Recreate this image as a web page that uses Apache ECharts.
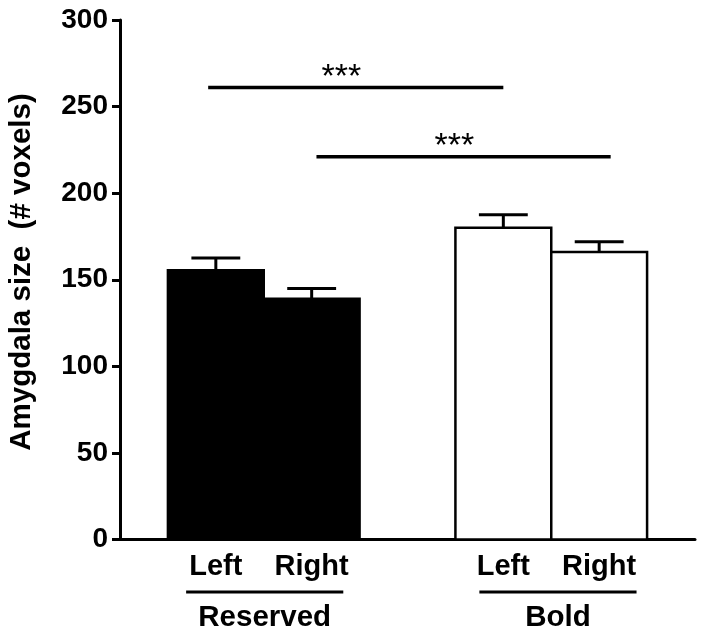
<!DOCTYPE html>
<html>
<head>
<meta charset="utf-8">
<script src="https://cdn.jsdelivr.net/npm/echarts@6/dist/echarts.min.js"></script>
<style>html,body{margin:0;padding:0;background:#fff}#c{width:705px;height:638px}</style>
</head>
<body>
<div id="c"></div>
<script>
// ---- data ----
const categories = ['Left', 'Right', 'Left', 'Right'];
const groups = ['Reserved', 'Bold'];
const groupOf = [0, 0, 1, 1];
const xPos = [1, 2, 4, 5];
const means = [155.5, 139, 180, 166];
const sems = [7, 6, 7.5, 6];
const groupCenters = [1.51, 4.57];
const sigLines = [[0.92, 4.0, 261], [2.05, 5.12, 221]];
const sigStarsX = [2.31, 3.49];
const sigLabel = '***';
const yTicks = [0, 50, 100, 150, 200, 250, 300];
const yTitle = 'Amygdala size  (# voxels)';

const FONT = '"Liberation Sans", Arial, sans-serif';
const chart = echarts.init(document.getElementById('c'));

const barData = xPos.map((x, i) => [x, means[i], sems[i], groupOf[i]]);

chart.setOption({
  animation: false,
  backgroundColor: '#fff',
  grid: { left: 120, top: 20, right: 10, bottom: 98.5, containLabel: false },
  xAxis: {
    type: 'value', min: 0, max: 6, interval: 1,
    axisLine: { show: true, onZero: false, lineStyle: { color: '#000', width: 3 } },
    axisTick: { show: false },
    splitLine: { show: false },
    axisLabel: {
      margin: 13, fontFamily: FONT, fontWeight: 'bold', fontSize: 29, color: '#000',
      formatter: v => { const i = xPos.indexOf(v); return i >= 0 ? categories[i] : ''; }
    }
  },
  yAxis: {
    type: 'value', min: yTicks[0], max: yTicks[yTicks.length - 1], interval: 50,
    axisLine: { show: true, lineStyle: { color: '#000', width: 3 } },
    axisTick: { show: true, length: 8, inside: false, lineStyle: { color: '#000', width: 3 } },
    splitLine: { show: false },
    axisLabel: { margin: 12, fontFamily: FONT, fontWeight: 'bold', fontSize: 28, color: '#000' }
  },
  graphic: [{
    type: 'text', x: 22, y: 272, rotation: Math.PI / 2,
    style: { text: yTitle, fontFamily: FONT, fontWeight: 'bold', fontSize: 29.5, fill: '#000',
      textAlign: 'center', textVerticalAlign: 'middle' }
  }],
  series: [
    {
      type: 'custom', name: 'bars', clip: false, data: barData,
      renderItem: (params, api) => {
        const x = api.value(0), m = api.value(1), s = api.value(2), g = api.value(3);
        const tl = api.coord([x - 0.5, m]);
        const br = api.coord([x + 0.5, 0]);
        const top = api.coord([x, m + s]);
        const capL = api.coord([x - 0.255, m + s]);
        const capR = api.coord([x + 0.255, m + s]);
        return {
          type: 'group',
          children: [
            { type: 'line', shape: { x1: tl[0] + (br[0] - tl[0]) / 2, y1: tl[1], x2: top[0], y2: top[1] },
              style: { stroke: '#000', lineWidth: 3 } },
            { type: 'line', shape: { x1: capL[0], y1: capL[1], x2: capR[0], y2: capR[1] },
              style: { stroke: '#000', lineWidth: 3 } },
            { type: 'rect', shape: { x: tl[0], y: tl[1], width: br[0] - tl[0], height: br[1] - tl[1] },
              style: { fill: g === 0 ? '#000' : '#fff', stroke: '#000', lineWidth: 2.5 } }
          ]
        };
      }
    },
    {
      type: 'custom', name: 'sig', clip: false, data: sigLines.map((d, i) => [d[0], d[1], d[2], sigStarsX[i]]),
      renderItem: (params, api) => {
        const a = api.coord([api.value(0), api.value(2)]);
        const b = api.coord([api.value(1), api.value(2)]);
        const st = api.coord([api.value(3), api.value(2)]);
        return {
          type: 'group',
          children: [
            { type: 'line', shape: { x1: a[0], y1: a[1], x2: b[0], y2: b[1] },
              style: { stroke: '#000', lineWidth: 3.5 } },
            { type: 'text', x: st[0], y: st[1] - 10,
              style: { text: sigLabel, fontFamily: FONT, fontSize: 34, fill: '#000',
                textAlign: 'center', textVerticalAlign: 'middle' } }
          ]
        };
      }
    },
    {
      type: 'custom', name: 'groups', clip: false, data: groupCenters.map((c, i) => [c, i]),
      renderItem: (params, api) => {
        const c = api.value(0), i = api.value(1);
        const a = api.coord([c - 0.82, 0]);
        const b = api.coord([c + 0.82, 0]);
        return {
          type: 'group',
          children: [
            { type: 'line', shape: { x1: a[0], y1: a[1] + 52.5, x2: b[0], y2: b[1] + 52.5 },
              style: { stroke: '#000', lineWidth: 3 } },
            { type: 'text', x: (a[0] + b[0]) / 2, y: a[1] + 78,
              style: { text: groups[i], fontFamily: FONT, fontWeight: 'bold', fontSize: 29.5, fill: '#000',
                textAlign: 'center', textVerticalAlign: 'middle' } }
          ]
        };
      }
    }
  ]
});
</script>
</body>
</html>
